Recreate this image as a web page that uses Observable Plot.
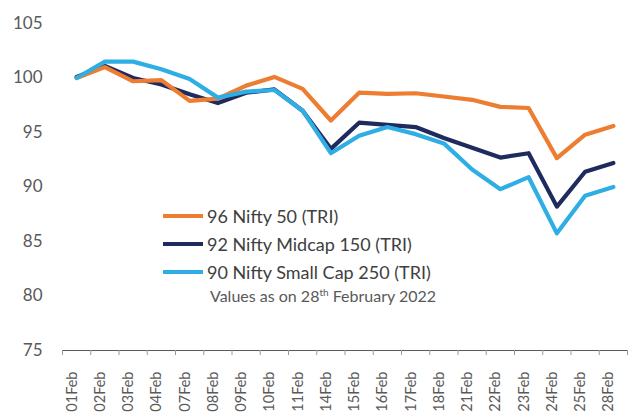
<!DOCTYPE html>
<html><head><meta charset="utf-8">
<script src="https://cdn.jsdelivr.net/npm/d3@7"></script>
<script src="https://cdn.jsdelivr.net/npm/@observablehq/plot@0.6"></script>
<style>
body{margin:0;background:#fff;}
#wrap{position:relative;width:628px;height:414px;overflow:hidden;font-family:Lato,sans-serif;}
#wrap svg g[aria-label^="x-axis"]{color:#9a9a9a;}
.legend{position:absolute;left:163px;top:202px;}
.row{display:flex;align-items:center;height:28px;font-size:18px;color:#404040;white-space:nowrap;}
.sw{width:40px;height:4px;margin-right:4px;}
.note{position:absolute;left:210px;top:286px;font-size:16px;color:#595959;white-space:nowrap;}
.note sup{font-size:10px;vertical-align:6px;line-height:0;}
</style></head><body><div id="wrap"></div>
<script>
const dates = ["01Feb","02Feb","03Feb","04Feb","07Feb","08Feb","09Feb","10Feb","11Feb","14Feb","15Feb","16Feb","17Feb","18Feb","21Feb","22Feb","23Feb","24Feb","25Feb","28Feb"];
const nifty50 = [100.0, 101.0, 99.7, 99.8, 97.9, 98.1, 99.3, 100.1, 99.0, 96.1, 98.65, 98.55, 98.6, 98.3, 98.0, 97.35, 97.25, 92.65, 94.8, 95.6];
const midcap150 = [100.1, 101.1, 100.0, 99.4, 98.5, 97.7, 98.65, 98.95, 97.0, 93.5, 95.9, 95.7, 95.5, 94.5, 93.6, 92.7, 93.1, 88.2, 91.4, 92.2];
const smallcap250 = [100.0, 101.5, 101.5, 100.8, 99.9, 98.2, 98.75, 98.9, 97.0, 93.1, 94.7, 95.5, 94.85, 94.0, 91.6, 89.8, 90.9, 85.75, 89.2, 90.0];
const seriesNames = ["96 Nifty 50 (TRI)", "92 Nifty Midcap 150 (TRI)", "90 Nifty Small Cap 250 (TRI)"];
const seriesColors = ["#ed7d31", "#1f2a5e", "#2eaee4"];
const yTicks = [75, 80, 85, 90, 95, 100, 105];
const note = "Values as on 28<sup>th</sup> February 2022";

const n = dates.length;
const boundaries = d3.range(n + 1).map(i => i - 0.5);
const mk = vals => vals.map((v, i) => ({i, v}));

const chart = Plot.plot({
  width: 628, height: 414,
  marginLeft: 62, marginRight: 1, marginTop: 23, marginBottom: 64,
  style: {fontFamily: "Lato, sans-serif", fontSize: "17px", color: "#595959", background: "white"},
  x: {type: "linear", domain: [-0.5, n - 0.5], ticks: boundaries, tickFormat: () => "", tickSize: 5, line: true, label: null},
  y: {domain: [75, 105], ticks: yTicks, tickSize: 0, tickPadding: 20, label: null},
  marks: [
    Plot.text(dates, {x: (d, i) => i, frameAnchor: "bottom", rotate: -90, textAnchor: "end", dy: 21, fontSize: 14.5, fill: "#595959"}),
    Plot.line(mk(midcap150), {x: "i", y: "v", stroke: seriesColors[1], strokeWidth: 4.2}),
    Plot.line(mk(nifty50), {x: "i", y: "v", stroke: seriesColors[0], strokeWidth: 4.2}),
    Plot.line(mk(smallcap250), {x: "i", y: "v", stroke: seriesColors[2], strokeWidth: 4.2})
  ]
});
const wrap = document.getElementById("wrap");
wrap.appendChild(chart);
const leg = document.createElement("div");
leg.className = "legend";
seriesNames.forEach((s, k) => {
  const r = document.createElement("div");
  r.className = "row";
  r.innerHTML = `<span class="sw" style="background:${seriesColors[k]}"></span><span>${s}</span>`;
  leg.appendChild(r);
});
wrap.appendChild(leg);
const nt = document.createElement("div");
nt.className = "note";
nt.innerHTML = note;
wrap.appendChild(nt);
</script></body></html>
